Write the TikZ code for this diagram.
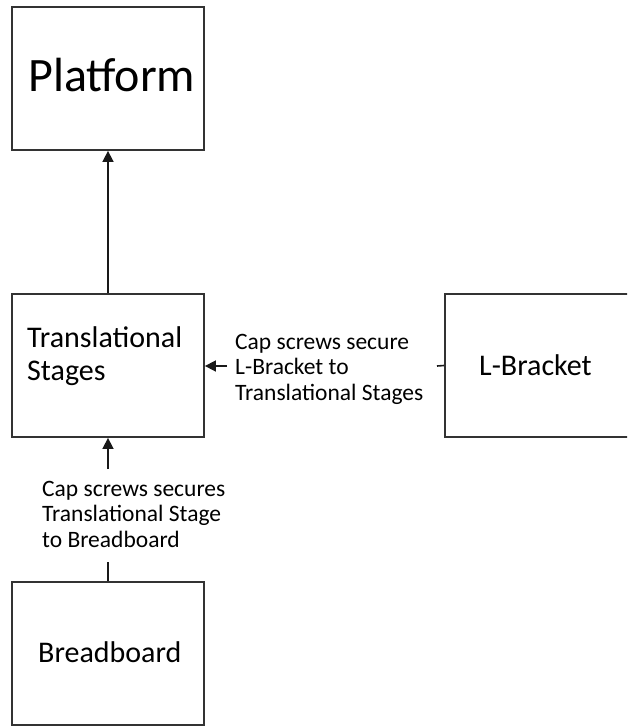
\documentclass[tikz,border=0pt]{standalone}
\usepackage{fontspec}
\setmainfont{Carlito}
\usetikzlibrary{arrows.meta, positioning}

\begin{document}
\begin{tikzpicture}[
    x=1pt, y=-1pt,
    >={Triangle[length=11pt, width=11pt]},
    blk/.style={draw=black!80, line width=1.8pt, minimum width=192pt, minimum height=143pt, inner sep=0pt},
    txt/.style={font=\fontsize{30}{33}\selectfont, align=left, inner sep=0pt, anchor=base west},
    note/.style={font=\fontsize{23.5}{25.5}\selectfont, align=left, inner sep=0pt, anchor=base west},
    link/.style={line width=1.6pt, draw=black!90}
  ]
  \useasboundingbox (0,0) rectangle (627,727);
  \clip (0,0) rectangle (627,727);

  % ---- Boxes ----
  \node[blk] (pf) at (108,78.5)  {};
  \node[blk] (ts) at (108,365.5) {};
  \node[blk] (bb) at (108,653.5) {};
  \node[blk, minimum width=190pt, anchor=west] (lb) at (444,365.5) {};

  % Box texts (base = last line)
  \node[txt, font=\fontsize{48}{52}\selectfont] (pfT) at (28,92) {Platform};
  \node[txt] (tsT) at (27,380) {Translational\\Stages};
  \node[txt] (lbT) at (479,375) {L-Bracket};
  \node[txt] (bbT) at (38,662) {Breadboard};

  % ---- Connectors ----
  \draw[link, ->] (ts) -- (pf);

  % L-Bracket to stages
  \coordinate (lbA) at (437,366);
  \coordinate (lbB) at (227,366);
  \draw[link] (lb.west) -- (lbA);
  \draw[link, ->] (lbB) -- (ts.east |- lbB);
  \node[note] (lbN) at (235,400) {Cap screws secure\\L-Bracket to\\Translational Stages};

  % Breadboard to stages
  \coordinate (bbA) at (108,562);
  \coordinate (bbB) at (108,469);
  \draw[link] (bb.north) -- (bbA);
  \draw[link, ->] (bbB) -- (ts.south);
  \node[note] (bbN) at (42,547) {Cap screws secures\\Translational Stage\\to Breadboard};
\end{tikzpicture}
\end{document}
